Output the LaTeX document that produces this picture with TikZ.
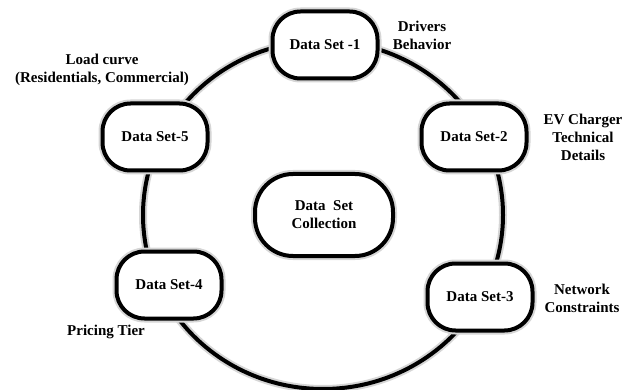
\documentclass[tikz,border=0pt]{standalone}
\usepackage{fontspec}
\setmainfont{Liberation Serif}
\usetikzlibrary{shapes.geometric}
\tikzset{
  glow/.style={preaction={draw=black!16, line width=8pt}},
  setbox/.style={glow, draw=black, line width=4pt, fill=white, rounded corners=28pt,
    minimum width=105pt, minimum height=67pt, inner sep=2pt,
    font=\fontsize{15}{18}\selectfont\bfseries, align=center},
  ringstyle/.style={glow, draw=black, line width=4pt, ellipse, inner sep=0pt,
    minimum width=360pt, minimum height=348pt},
  note/.style={font=\fontsize{15}{18}\selectfont\bfseries, align=center, inner sep=0pt}
}
\begin{document}
\begin{tikzpicture}[x=1pt,y=-1pt]
\useasboundingbox (0,0) rectangle (634,390);
\node[ringstyle] (ring) at (323,215) {};
\node[setbox] (n1) at (325,45) {Data Set -1};
\node[setbox] (n2) at (474,137) {Data Set-2};
\node[setbox] (n3) at (480,297) {Data Set-3};
\node[setbox] (n4) at (169,285) {Data Set-4};
\node[setbox] (n5) at (155,137) {Data Set-5};
\node[setbox, minimum width=138pt, minimum height=82pt, rounded corners=38pt] (c) at (324,215) {Data~~Set\\Collection};
\node[note] (l1) at (422,35) {Drivers\\Behavior};
\node[note] (l2) at (583,137) {EV Charger\\Technical\\Details};
\node[note] (l3) at (582,298) {Network\\Constraints};
\node[note] (l4) at (106,332) {Pricing Tier};
\node[note] (l5) at (102,70) {Load curve\\(Residentials, Commercial)};
\end{tikzpicture}
\end{document}
